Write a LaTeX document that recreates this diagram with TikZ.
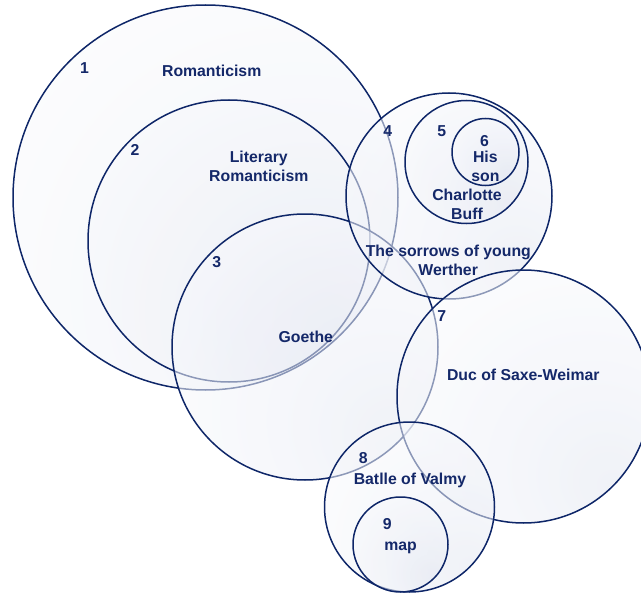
\documentclass[tikz,border=0pt]{standalone}
\usepackage{fontspec}
\setmainfont{Liberation Sans}
\definecolor{navy}{RGB}{14,38,104}
\definecolor{txt}{RGB}{20,40,105}
\definecolor{orbC}{RGB}{227,231,241}
\definecolor{orbB}{RGB}{240,242,248}
\pgfdeclareradialshading{orbshade}{\pgfpoint{18bp}{-18bp}}{color(0bp)=(orbC); color(22bp)=(orbB); color(55bp)=(white); color(90bp)=(white)}
\tikzset{
  orb/.style={circle, draw=navy, line width=1.5pt, inner sep=0pt, outer sep=0pt,
    shade, shading=orbshade, fill opacity=0.55, draw opacity=1, minimum size=#1},
  lab/.style={anchor=base, text=txt, font=\fontsize{15.8}{19}\selectfont\bfseries, align=center, inner sep=0pt}
}
\begin{document}
\begin{tikzpicture}[x=1pt,y=-1pt]
\useasboundingbox (0,0) rectangle (641,594);
\node[orb=385] (c1) at (205.5,197.5) {};
\node[orb=282] (c2) at (229,241) {};
\node[orb=266] (c3) at (305,347) {};
\node[orb=206] (c4) at (449,196) {};
\node[orb=123] (c5) at (466.5,162) {};
\node[orb=67]  (c6) at (485.5,152) {};
\node[orb=253] (c7) at (523.5,396.5) {};
\node[orb=170] (c8) at (409.5,507) {};
\node[orb=95]  (c9) at (400.5,544.5) {};
% labels
\node[lab] (n1) at (84.5,74) {1};
\node[lab] (t1) at (211.7,77) {Romanticism};
\node[lab] (n2) at (135,156) {2};
\node[lab] (t2a) at (258.8,162) {Literary};
\node[lab] (t2b) at (258.8,181.5) {Romanticism};
\node[lab] (n3) at (216.7,267) {3};
\node[lab] (t3) at (305.8,342.5) {Goethe};
\node[lab] (n4) at (387.7,137) {4};
\node[lab] (n5) at (441.7,136) {5};
\node[lab] (n6) at (484.5,146.5) {6};
\node[lab] (t6a) at (485.3,162) {His};
\node[lab] (t6b) at (485.5,181.5) {son};
\node[lab] (t5a) at (467,200.5) {Charlotte};
\node[lab] (t5b) at (467,219) {Buff};
\node[lab] (t4a) at (448.3,256) {The sorrows of young};
\node[lab] (t4b) at (448.2,275.5) {Werther};
\node[lab] (n7) at (441.7,321.5) {7};
\node[lab] (t7) at (523.3,380) {Duc of Saxe-Weimar};
\node[lab] (n8) at (363.3,463) {8};
\node[lab] (t8) at (410,484) {Batlle of Valmy};
\node[lab] (n9) at (387.3,529) {9};
\node[lab] (t9) at (400.5,550) {map};
\end{tikzpicture}
\end{document}
